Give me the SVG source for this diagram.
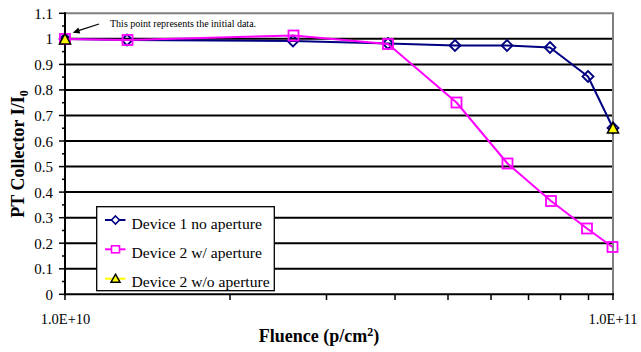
<svg xmlns="http://www.w3.org/2000/svg" width="641" height="352" viewBox="0 0 641 352">
<style>
  text { font-family: "Liberation Serif", "Times New Roman", serif; fill: #000; }
  .tick { font-size: 15px; text-anchor: end; }
  .xl { font-size: 14.5px; text-anchor: middle; }
  .title { font-size: 18px; font-weight: bold; text-anchor: middle; }
  .leg { font-size: 15.6px; }
  .note { font-size: 10px; }
  .grid { stroke: #000; stroke-width: 2; }
  .frame { stroke: #808080; stroke-width: 2; fill: none; }
  .axis { stroke: #000; stroke-width: 2; }
  .tk { stroke: #000; stroke-width: 1.5; }
  .s1 { stroke: #000080; stroke-width: 2; fill: none; stroke-linejoin: round; }
  .s2 { stroke: #FF00FF; stroke-width: 2; fill: none; stroke-linejoin: round; }
  .s3 { stroke: #FFFF00; stroke-width: 2; fill: none; }
</style>
<defs>
  <path id="dia" d="M0,-5.5 L5.5,0 L0,5.5 L-5.5,0 Z" fill="none" stroke="#000080" stroke-width="1.8"/>
  <rect id="sq" x="-5" y="-5" width="10" height="10" fill="none" stroke="#FF00FF" stroke-width="1.8"/>
  <path id="tri" d="M0,-6 L5.5,4.5 L-5.5,4.5 Z" fill="#FFFF00" stroke="#000" stroke-width="1.6" stroke-linejoin="miter"/>
  <path id="diaS" d="M0,-4 L4,0 L0,4 L-4,0 Z" fill="#fff" stroke="#000080" stroke-width="1.6"/>
  <rect id="sqS" x="-4" y="-3.5" width="8" height="7" fill="#fff" stroke="#FF00FF" stroke-width="1.6"/>
  <path id="triS" d="M0,-4.5 L4.5,3.5 L-4.5,3.5 Z" fill="#FFFF00" stroke="#000" stroke-width="1.5"/>
</defs>

<g id="plot-area">
  <rect x="65" y="13.3" width="548" height="281" fill="#fff"/>
  <g id="gridlines" class="grid">
    <line x1="65" y1="268.8" x2="613" y2="268.8"/>
    <line x1="65" y1="243.2" x2="613" y2="243.2"/>
    <line x1="65" y1="217.7" x2="613" y2="217.7"/>
    <line x1="65" y1="192.1" x2="613" y2="192.1"/>
    <line x1="65" y1="166.6" x2="613" y2="166.6"/>
    <line x1="65" y1="141" x2="613" y2="141"/>
    <line x1="65" y1="115.5" x2="613" y2="115.5"/>
    <line x1="65" y1="89.9" x2="613" y2="89.9"/>
    <line x1="65" y1="64.4" x2="613" y2="64.4"/>
    <line x1="65" y1="38.8" x2="613" y2="38.8"/>
  </g>
  <path class="frame" d="M65,13.3 H613 V294.3"/>
</g>

<g id="y-axis">
  <line class="axis" x1="65" y1="12.3" x2="65" y2="295.3"/>
  <g class="tk">
    <line x1="59" y1="294.3" x2="65" y2="294.3"/>
    <line x1="59" y1="268.8" x2="65" y2="268.8"/>
    <line x1="59" y1="243.2" x2="65" y2="243.2"/>
    <line x1="59" y1="217.7" x2="65" y2="217.7"/>
    <line x1="59" y1="192.1" x2="65" y2="192.1"/>
    <line x1="59" y1="166.6" x2="65" y2="166.6"/>
    <line x1="59" y1="141" x2="65" y2="141"/>
    <line x1="59" y1="115.5" x2="65" y2="115.5"/>
    <line x1="59" y1="89.9" x2="65" y2="89.9"/>
    <line x1="59" y1="64.4" x2="65" y2="64.4"/>
    <line x1="59" y1="38.8" x2="65" y2="38.8"/>
    <line x1="59" y1="13.3" x2="65" y2="13.3"/>
    <line x1="62" y1="281.5" x2="65" y2="281.5"/>
    <line x1="62" y1="256" x2="65" y2="256"/>
    <line x1="62" y1="230.5" x2="65" y2="230.5"/>
    <line x1="62" y1="204.9" x2="65" y2="204.9"/>
    <line x1="62" y1="179.3" x2="65" y2="179.3"/>
    <line x1="62" y1="153.8" x2="65" y2="153.8"/>
    <line x1="62" y1="128.2" x2="65" y2="128.2"/>
    <line x1="62" y1="102.7" x2="65" y2="102.7"/>
    <line x1="62" y1="77.1" x2="65" y2="77.1"/>
    <line x1="62" y1="51.6" x2="65" y2="51.6"/>
    <line x1="62" y1="26" x2="65" y2="26"/>
  </g>
  <g class="tick">
    <text x="53" y="299.8">0</text>
    <text x="53" y="274.3">0.1</text>
    <text x="53" y="248.7">0.2</text>
    <text x="53" y="223.2">0.3</text>
    <text x="53" y="197.6">0.4</text>
    <text x="53" y="172.1">0.5</text>
    <text x="53" y="146.5">0.6</text>
    <text x="53" y="121">0.7</text>
    <text x="53" y="95.4">0.8</text>
    <text x="53" y="69.9">0.9</text>
    <text x="53" y="44.3">1</text>
    <text x="53" y="18.8">1.1</text>
  </g>
  <text class="title" transform="translate(23.5,154) rotate(-90)">PT Collector I/I<tspan font-size="12" dy="4">0</tspan></text>
</g>

<g id="x-axis">
  <line class="axis" x1="64" y1="294.3" x2="614" y2="294.3"/>
  <g class="tk">
    <line x1="65" y1="294" x2="65" y2="300"/>
    <line x1="230" y1="294" x2="230" y2="300"/>
    <line x1="326.5" y1="294" x2="326.5" y2="300"/>
    <line x1="395" y1="294" x2="395" y2="300"/>
    <line x1="448" y1="294" x2="448" y2="300"/>
    <line x1="491" y1="294" x2="491" y2="300"/>
    <line x1="528.5" y1="294" x2="528.5" y2="300"/>
    <line x1="560.5" y1="294" x2="560.5" y2="300"/>
    <line x1="588.5" y1="294" x2="588.5" y2="300"/>
    <line x1="613" y1="294" x2="613" y2="300"/>
  </g>
  <text class="xl" x="65.5" y="324">1.0E+10</text>
  <text class="xl" x="613" y="324">1.0E+11</text>
  <text class="title" x="319" y="342">Fluence (p/cm<tspan font-size="12" dy="-6">2</tspan><tspan dy="6">)</tspan></text>
</g>

<g id="series-device1">
  <polyline class="s1" points="65,39 127,40 293,41 388,43.5 455,45.5 507,45.5 550,47.5 588,76.5 613,128"/>
  <use href="#dia" x="65" y="39"/>
  <use href="#dia" x="127" y="40"/>
  <use href="#dia" x="293" y="41"/>
  <use href="#dia" x="388" y="43.5"/>
  <use href="#dia" x="455" y="45.5"/>
  <use href="#dia" x="507" y="45.5"/>
  <use href="#dia" x="550" y="47.5"/>
  <use href="#dia" x="588" y="76.5"/>
  <use href="#dia" x="613" y="128"/>
</g>

<g id="series-device2">
  <polyline class="s2" points="65,39 127.5,40 293.5,35.5 388,44 456.5,102.5 507.5,163.5 551,201 587,228.5 612.5,247"/>
  <use href="#sq" x="65" y="39"/>
  <use href="#sq" x="127.5" y="40"/>
  <use href="#sq" x="293.5" y="35.5"/>
  <use href="#sq" x="388" y="44"/>
  <use href="#sq" x="456.5" y="102.5"/>
  <use href="#sq" x="507.5" y="163.5"/>
  <use href="#sq" x="551" y="201"/>
  <use href="#sq" x="587" y="228.5"/>
  <use href="#sq" x="612.5" y="247"/>
</g>

<g id="series-device2-noap">
  <use href="#tri" x="65" y="39.5"/>
  <use href="#tri" x="613" y="128.5"/>
</g>

<g id="annotation">
  <line x1="99" y1="24" x2="78.5" y2="30.7" stroke="#000" stroke-width="1.3"/>
  <polygon points="72.7,32.7 80.3,33.4 78.4,27.6" fill="#000"/>
  <text class="note" x="110" y="26.7">This point represents the initial data.</text>
</g>

<g id="legend">
  <rect x="96.7" y="206.7" width="177.6" height="84" fill="#fff" stroke="#000" stroke-width="1.3"/>
  <line class="s1" x1="105" y1="220" x2="125.5" y2="220"/>
  <use href="#diaS" x="115.5" y="220"/>
  <text class="leg" x="131.5" y="228.5">Device 1 no aperture</text>
  <line class="s2" x1="105" y1="249.3" x2="125.5" y2="249.3"/>
  <use href="#sqS" x="115.5" y="249.3"/>
  <text class="leg" x="131.5" y="257.5">Device 2 w/ aperture</text>
  <line class="s3" x1="105" y1="278.7" x2="125.5" y2="278.7"/>
  <use href="#triS" x="115.5" y="278.7"/>
  <text class="leg" x="131.5" y="286.5">Device 2 w/o aperture</text>
</g>
</svg>
